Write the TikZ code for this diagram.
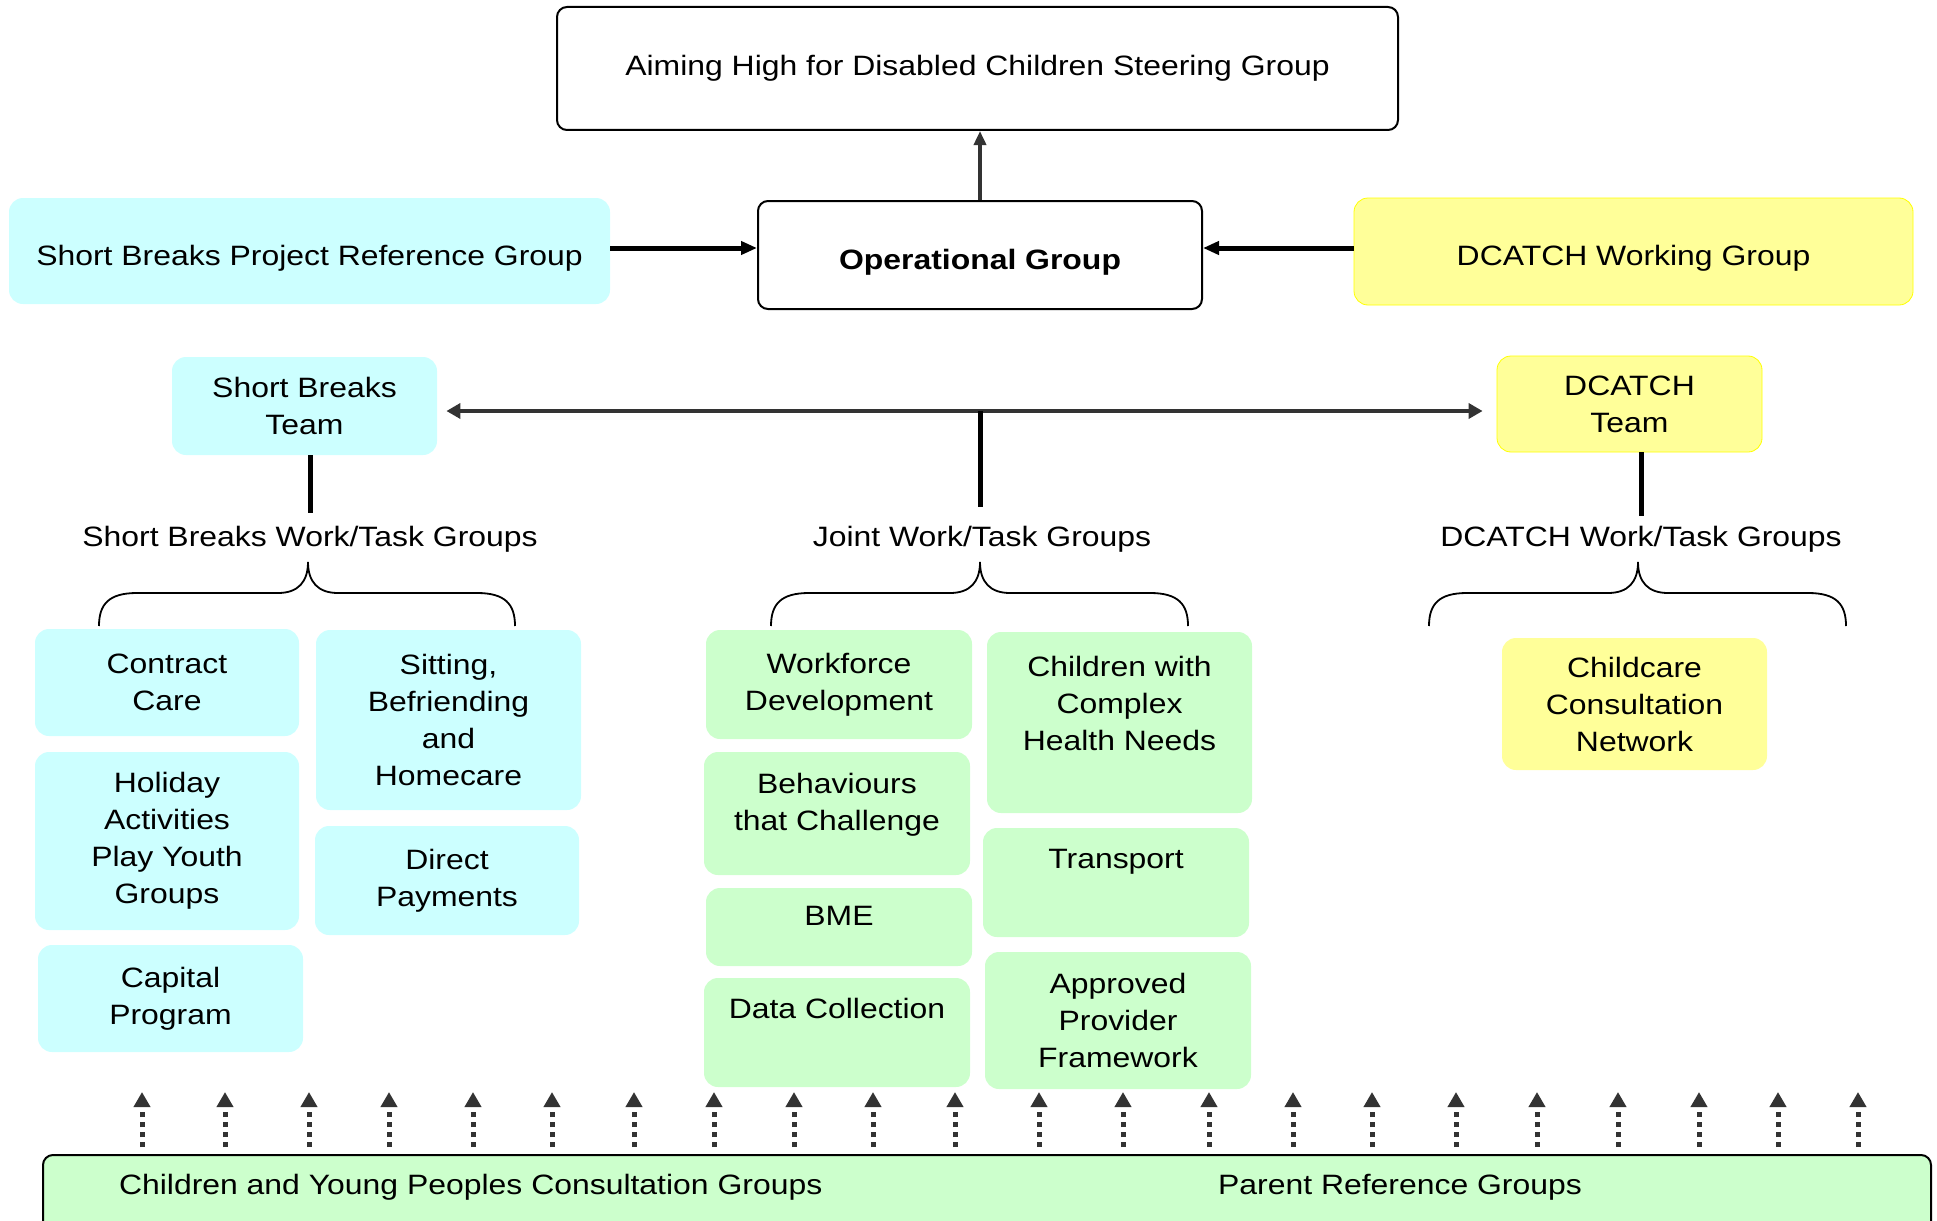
\documentclass[tikz,border=0pt]{standalone}
\usepackage{fontspec}
\setmainfont[FakeStretch=1.14]{Liberation Sans}
\usetikzlibrary{arrows.meta}

\definecolor{sbcyan}{HTML}{CCFFFF}
\definecolor{jgreen}{HTML}{CCFFCC}
\definecolor{dcyellow}{HTML}{FFFF99}
\definecolor{dcedge}{HTML}{FFFF00}
\definecolor{darkline}{HTML}{333333}

% accolade under a heading: left end, tip, right end (px)
\newcommand{\accolade}[3]{%
  \draw[line width=0.9pt] (#1,626) .. controls (#1,604) and (#1+10,593) .. (#1+38,593)
    -- (#2-30,593) .. controls (#2-10,593) and (#2,582) .. (#2,562)
    .. controls (#2,582) and (#2+10,593) .. (#2+30,593)
    -- (#3-38,593) .. controls (#3-10,593) and (#3,604) .. (#3,626);}

\begin{document}
\begin{tikzpicture}[x=0.5pt, y=-0.5pt,
  every node/.style={font=\fontsize{14pt}{18.5pt}\selectfont, align=center},
  wh/.style 2 args={minimum width=#1*0.5pt, minimum height=#2*0.5pt},
  box/.style={rounded corners=7pt, inner sep=2pt},
  sbbox/.style={box, fill=sbcyan},
  jbox/.style={box, fill=jgreen},
  dcbox/.style={box, fill=dcyellow},
  frame/.style={draw, fill=white, line width=1pt, rounded corners=5pt},
  lowtext/.style={text height=17pt},
  feed/.style={line width=2.5pt, -{Triangle[length=8pt,width=6.5pt]}},
  report/.style={darkline, line width=1.8pt, -{Triangle[length=7pt,width=6pt]}},
  link/.style={darkline, line width=2.3pt, {Triangle[length=7pt,width=7.5pt]}-{Triangle[length=7pt,width=7.5pt]}},
  stem/.style={line width=2.5pt, shorten >=3pt},
  voice/.style={darkline, line width=2.5pt, dash pattern=on 2.5pt off 2.5pt,
    shorten <=3.5pt, -{Triangle[length=7.5pt,width=8pt]}}]
\useasboundingbox (0,0) rectangle (1937,1220);

% Steering and operational level
\node[frame, wh={841}{123}] (steer) at (977.5,68.5) {Aiming High for Disabled Children Steering Group};
\node[frame, lowtext, wh={444}{108}, font=\fontsize{14pt}{18.5pt}\selectfont\bfseries] (oper) at (980,255) {Operational Group};
\node[sbbox, lowtext, wh={601}{106}] (sbref) at (309.5,251) {Short Breaks Project Reference Group};
\node[dcbox, lowtext, draw=dcedge, wh={559}{107}] (dcwg) at (1633.5,251.5) {DCATCH Working Group};

\coordinate (feed) at (980,248);
\draw[report] (oper.north) -- (oper.north |- steer.south);
\draw[feed] (feed -| sbref.east) -- (feed -| oper.west);
\draw[feed] (feed -| dcwg.west) -- (feed -| oper.east);

% Teams
\node[sbbox, wh={265}{98}] (sbteam) at (304.5,406) {Short Breaks\\Team};
\node[dcbox, draw=dcedge, wh={265}{96}] (dcteam) at (1629.5,404) {DCATCH\\Team};
\coordinate (hub) at (980,411);
\draw[link, shorten <=4.5pt, shorten >=7pt] (hub -| sbteam.east) -- (hub -| dcteam.west);

% Work/task group headings
\node (sbtasks) at (310,539) {Short Breaks Work/Task Groups};
\node (jtasks) at (982,539) {Joint Work/Task Groups};
\node (dctasks) at (1641,539) {DCATCH Work/Task Groups};
\draw[stem] (sbtasks.north |- sbteam.south) -- (sbtasks.north);
\draw[stem, shorten >=6pt] (hub) -- (hub |- jtasks.north);
\draw[stem, shorten >=1.5pt] (dctasks.north |- dcteam.south) -- (dctasks.north);

\accolade{99}{308}{515}
\accolade{771}{980}{1188}
\accolade{1429}{1638}{1846}

% Short Breaks groups
\node[sbbox, wh={264}{107}] (contract) at (167,682.5) {Contract\\Care};
\node[sbbox, wh={264}{178}] (holiday) at (167,841) {Holiday\\Activities\\Play Youth\\Groups};
\node[sbbox, wh={265}{107}] (capital) at (170.5,998.5) {Capital\\Program};
\node[sbbox, wh={265}{180}] (sitting) at (448.5,720) {Sitting,\\Befriending\\and\\Homecare};
\node[sbbox, wh={264}{109}] (direct) at (447,880.5) {Direct\\Payments};

% Joint groups
\node[jbox, wh={266}{109}] (workforce) at (839,684.5) {Workforce\\Development};
\node[jbox, wh={266}{123}, text depth=11.5pt] (behav) at (837,813.5) {Behaviours\\that Challenge};
\node[jbox, wh={266}{78}, text depth=11pt] (bme) at (839,927) {BME};
\node[jbox, wh={266}{109}, text depth=24.5pt] (datacol) at (837,1032.5) {Data Collection};
\node[jbox, wh={265}{181}, text depth=19.5pt] (complex) at (1119.5,722.5) {Children with\\Complex\\Health Needs};
\node[jbox, wh={266}{109}, text depth=23.5pt] (transport) at (1116,882.5) {Transport};
\node[jbox, wh={266}{137}] (approved) at (1118,1020.5) {Approved\\Provider\\Framework};

% DCATCH groups
\node[dcbox, wh={265}{132}] (childcare) at (1634.5,704) {Childcare\\Consultation\\Network};

% Consultation base
\node[jbox, draw, line width=1pt, rounded corners=5pt, wh={1888}{100}] (base) at (987,1205) {};
\node[anchor=west] (cyp) at (112,1187) {Children and Young Peoples Consultation Groups};
\node (parents) at (1400,1187) {Parent Reference Groups};
\foreach \x in {142,225,309,389,473,552,634,714,794,873,955,1039,1123,1209,1293,1372,1456,1537,1618,1699,1778,1858} {
  \coordinate (up\x) at (\x,1092);
  \draw[voice] (up\x |- base.north) -- (up\x);
}
\end{tikzpicture}
\end{document}
